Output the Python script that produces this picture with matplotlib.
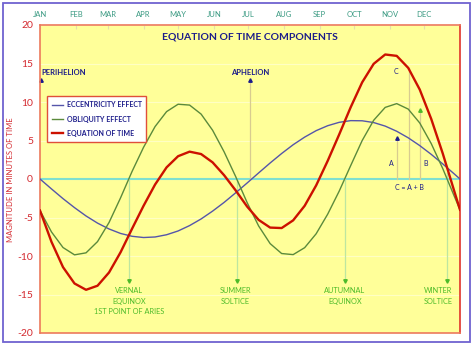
import numpy as np
import matplotlib
matplotlib.use("Agg")
import matplotlib.pyplot as plt
from matplotlib.patches import Rectangle

plt.rcParams['font.family'] = ['Lato', 'DejaVu Sans']

# day of year for each sample
days = [0, 10, 20, 30, 40, 50, 60, 70, 80, 90, 100, 110, 120, 130, 140, 150, 160, 170, 180,
        190, 200, 210, 220, 230, 240, 250, 260, 270, 280, 290, 300, 310, 320, 330, 340, 350,
        360, 365]

# minutes
eccentricity = [0.0, -1.29, -2.55, -3.72, -4.80, -5.73, -6.49, -7.07, -7.44, -7.60, -7.53,
                -7.24, -6.75, -6.05, -5.19, -4.17, -3.04, -1.80, -0.52, 0.79, 2.08, 3.31,
                4.45, 5.44, 6.28, 6.92, 7.36, 7.58, 7.56, 7.33, 6.87, 6.20, 5.35, 4.34, 3.20,
                1.96, 0.66, 0.0]
obliquity = [-4.1, -6.88, -8.90, -9.85, -9.59, -8.13, -5.65, -2.45, 0.98, 4.12, 6.81, 8.75,
             9.71, 9.60, 8.43, 6.33, 3.53, 0.33, -3.06, -6.10, -8.39, -9.68, -9.82, -8.92,
             -7.11, -4.57, -1.58, 1.74, 5.00, 7.63, 9.30, 9.79, 9.08, 7.28, 4.60, 1.36,
             -2.23, -4.0]
equation = [-4.1, -8.17, -11.45, -13.57, -14.39, -13.86, -12.14, -9.52, -6.46, -3.48, -0.72,
            1.51, 2.96, 3.55, 3.24, 2.16, 0.49, -1.47, -3.58, -5.31, -6.31, -6.37, -5.37,
            -3.48, -0.83, 2.35, 5.78, 9.32, 12.56, 14.96, 16.17, 15.99, 14.43, 11.62, 7.80,
            3.32, -1.57, -4.0]

months = ['JAN', 'FEB', 'MAR', 'APR', 'MAY', 'JUN', 'JUL', 'AUG', 'SEP', 'OCT', 'NOV', 'DEC']
month_start = [0, 31, 59, 90, 120, 151, 181, 212, 243, 273, 304, 334]
yticks = [20, 15, 10, 5, 0, -5, -10, -15, -20]

# equinox / solstice days and labels
seasons_day = [77.3, 171, 265, 353.7]
seasons_text_x = [77.3, 170, 265, 346]
seasons_text = [['VERNAL', 'EQUINOX', '1ST POINT OF ARIES'],
                ['SUMMER', 'SOLTICE'],
                ['AUTUMNAL', 'EQUINOX'],
                ['WINTER', 'SOLTICE']]

perihelion_day = 0
aphelion_day = 182.5

# C = A + B construction
a_day, a_top = 310.5, 5.3
c_day, c_top = 320.7, 14.4
b_day, b_top = 330.2, 8.9

fig = plt.figure(figsize=(4.74, 3.46), dpi=100)
fig.patch.set_facecolor('white')
fig.add_artist(Rectangle((3 / 474, 4 / 346), 467 / 474, 339 / 346, transform=fig.transFigure,
                         fill=False, edgecolor='#6F62D0', linewidth=1.3))

ax = fig.add_axes([40 / 474, 13 / 346, 420 / 474, 308 / 346])
ax.set_facecolor('#FFFF99')
ax.set_xlim(0, 365)
ax.set_ylim(-20, 20)

for s in ax.spines.values():
    s.set_color('#EC7A5C')
    s.set_linewidth(1.2)
ax.spines['right'].set_color('#E0352A')

ax.set_yticks(yticks)
ax.set_yticklabels([str(v) for v in yticks])
ax.tick_params(axis='y', length=0, pad=5, labelsize=7.5, labelcolor='#D42A30')
ax.set_xticks(month_start)
ax.set_xticklabels(months)
ax.tick_params(axis='x', top=True, bottom=False, labeltop=True, labelbottom=False,
               direction='in', length=3, color='#E6DCA8', labelsize=5.5,
               labelcolor='#3A9A82', pad=5)
ax.grid(axis='y', color='#FFFFC4', linewidth=0.8)
ax.set_axisbelow(True)

# guide lines
ax.axhline(0, color='#7FE0D0', linewidth=1.5, zorder=2)
guide = '#D8CC90'
ax.plot([aphelion_day, aphelion_day], [0, 12.6], color=guide, lw=0.9, zorder=2)
for d in seasons_day:
    ax.plot([d, d], [0.8 if d > 300 else 0, -13.0], color='#BDE6A0', lw=0.9, zorder=2)
ax.plot([a_day, a_day], [0, a_top], color=guide, lw=0.9, zorder=2)
ax.plot([c_day, c_day], [0, c_top], color=guide, lw=0.9, zorder=2)
ax.plot([b_day, b_day], [0, b_top], color=guide, lw=0.9, zorder=2)

# curves
ax.plot(days, eccentricity, color='#5555AA', lw=1.0, label='ECCENTRICITY EFFECT', zorder=3,
        solid_joinstyle='round')
ax.plot(days, obliquity, color='#5B8A3C', lw=1.0, label='OBLIQUITY EFFECT', zorder=3,
        solid_joinstyle='round')
ax.plot(days, equation, color='#CC1100', lw=1.7, label='EQUATION OF TIME', zorder=4,
        solid_joinstyle='round')

navy = '#1C1C8A'
green = '#4DBB2A'
ax.text(0.5, 0.96, 'EQUATION OF TIME COMPONENTS', transform=ax.transAxes, ha='center',
        va='center', fontsize=7.5, fontweight='bold', color=navy)

ax.text(1, 13.8, 'PERIHELION', ha='left', va='center', fontsize=5.5, fontweight='bold',
        color=navy)
ax.plot(perihelion_day + 0.8, 12.9, marker='^', ms=2.5, color=navy, clip_on=False)
ax.text(aphelion_day, 13.8, 'APHELION', ha='center', va='center', fontsize=5.5,
        fontweight='bold', color=navy)
ax.plot(aphelion_day, 12.9, marker='^', ms=2.5, color=navy)

for d, tx, lines in zip(seasons_day, seasons_text_x, seasons_text):
    ax.plot(d, -13.3, marker='v', ms=2.5, color=green)
    for i, t in enumerate(lines):
        ax.text(tx, -14.5 - 1.35 * i, t, ha='center', va='center', fontsize=5.3,
                color=green)

ax.plot(a_day, a_top, marker='^', ms=2.5, color=navy)
ax.plot(b_day, b_top, marker='^', ms=2.5, color=green)
ax.text(a_day - 5, 2.0, 'A', ha='center', va='center', fontsize=5, color=navy)
ax.text(b_day + 5, 2.0, 'B', ha='center', va='center', fontsize=5, color=navy)
ax.text(c_day - 11, 14.0, 'C', ha='center', va='center', fontsize=5, color=navy)
ax.text(c_day, -1.1, 'C = A + B', ha='center', va='center', fontsize=5, color=navy)

leg = ax.legend(loc='upper left', bbox_to_anchor=(0.017, 0.768), borderaxespad=0,
                fancybox=False, framealpha=1, edgecolor='#E0503A', fontsize=5,
                handlelength=1.6, handletextpad=0.5, borderpad=0.7, labelspacing=1.05)
leg.get_frame().set_linewidth(1.0)
for t in leg.get_texts():
    t.set_color(navy)
    t.set_fontweight('bold')

fig.text(11 / 474, 0.48, 'MAGNITUDE IN MINUTES OF TIME', rotation=90, ha='center',
         va='center', fontsize=5.5, color='#D42A30')

fig.savefig('out.png', dpi=100)
